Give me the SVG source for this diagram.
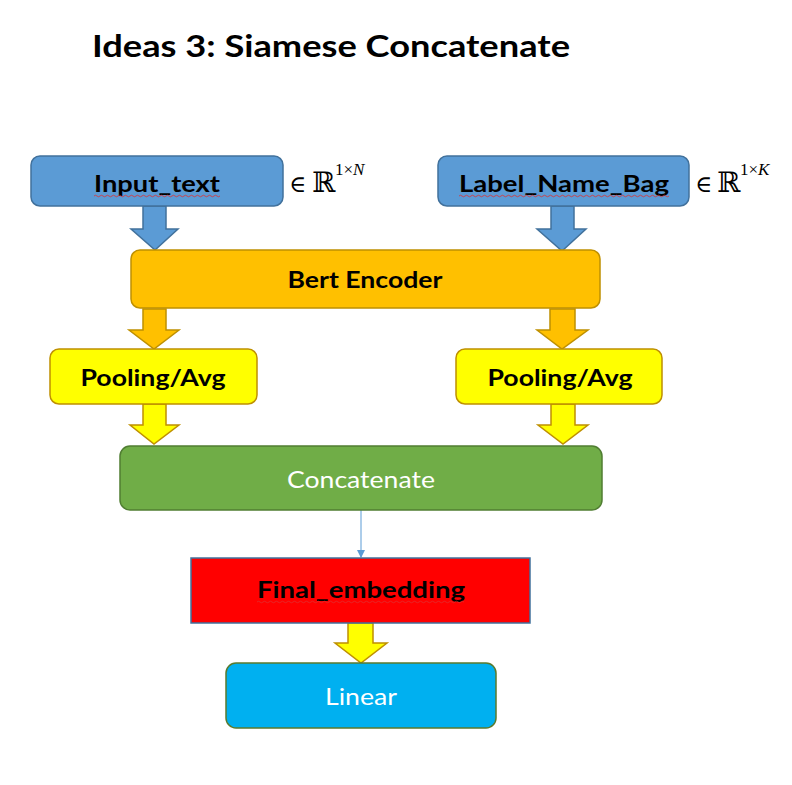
<svg xmlns="http://www.w3.org/2000/svg" width="792" height="785" viewBox="0 0 792 785">
<style>
.lbl{font-family:Lato,"Liberation Sans",Arial,sans-serif;font-weight:bold;font-size:23px;fill:#000;text-anchor:middle}
.wl{font-family:Lato,"Liberation Sans",Arial,sans-serif;font-size:23px;fill:#fff;text-anchor:middle}
.math{font-family:"DejaVu Serif","Liberation Serif",serif;fill:#000}
.sup{font-family:"Liberation Serif",serif;font-size:17px;fill:#000}
.blue{fill:#5B9BD5;stroke:#41719C;stroke-width:1.5}
.orange{fill:#FFC000;stroke:#BF9000;stroke-width:1.5}
.yellow{fill:#FFFF00;stroke:#BF9000;stroke-width:1.5}
.squig{fill:none;stroke:#E03030;stroke-width:0.8}
</style>
<defs>
<marker id="ah" markerWidth="8" markerHeight="8" refX="7" refY="4" orient="auto" markerUnits="userSpaceOnUse">
<path d="M0,0 L8,4 L0,8 Z" fill="#5B9BD5"/>
</marker>
</defs>
<rect width="792" height="785" fill="#fff"/>
<text x="92" y="57" font-family="Lato,'Liberation Sans',Arial,sans-serif" font-weight="bold" font-size="31" textLength="478" lengthAdjust="spacingAndGlyphs">Ideas 3: Siamese Concatenate</text>

<g id="connectors">
<path class="blue" d="M143,206 H166 V229 H178 L155,250 L131,229 H143 Z"/>
<path class="blue" d="M551,206 H574 V229 H586 L562,251 L537,229 H551 Z"/>
<path class="orange" d="M143,309 H166 V330 H179 L154,349 L129,330 H143 Z"/>
<path class="orange" d="M550,309 H575 V330 H588 L562,349 L537,330 H550 Z"/>
<path class="yellow" d="M143,404 H166 V425 H179 L154,444 L130,425 H143 Z"/>
<path class="yellow" d="M551,404 H575 V425 H588 L563,444 L538,425 H551 Z"/>
<line x1="361" y1="510" x2="361" y2="557" stroke="#5B9BD5" stroke-width="1" marker-end="url(#ah)"/>
<path class="yellow" d="M348,623 H373 V643 H387 L361,663 L335,643 H348 Z"/>
</g>

<g id="input_text">
<rect x="31" y="156" width="252" height="50" rx="9" class="blue"/>
<text x="157" y="192" class="lbl" textLength="126" lengthAdjust="spacingAndGlyphs">Input_text</text>
<path class="squig" d="M94,196 q1.5,-1.5 3,0 t3,0 t3,0 t3,0 t3,0 t3,0 t3,0 t3,0 t3,0 t3,0 t3,0 t3,0 t3,0 t3,0 t3,0 t3,0 t3,0 t3,0 t3,0 t3,0 t3,0 t3,0 t3,0 t3,0 t3,0 t3,0 t3,0 t3,0 t3,0 t3,0 t3,0 t3,0 t3,0 t3,0 t3,0 t3,0 t3,0 t3,0 t3,0 t3,0 t3,0 t3,0"/>
<text x="289" y="192" class="math" font-size="23">∈</text>
<text x="312" y="192" class="math" font-size="28">ℝ</text>
<text x="335" y="175" class="sup">1×<tspan font-style="italic">N</tspan></text>
</g>

<g id="label_name_bag">
<rect x="438" y="156" width="251" height="50" rx="9" class="blue"/>
<text x="564" y="192" class="lbl" textLength="210" lengthAdjust="spacingAndGlyphs">Label_Name_Bag</text>
<path class="squig" d="M459,196 q1.5,-1.5 3,0 t3,0 t3,0 t3,0 t3,0 t3,0 t3,0 t3,0 t3,0 t3,0 t3,0 t3,0 t3,0 t3,0 t3,0 t3,0 t3,0 t3,0 t3,0 t3,0 t3,0 t3,0 t3,0 t3,0 t3,0 t3,0 t3,0 t3,0 t3,0 t3,0 t3,0 t3,0 t3,0 t3,0 t3,0 t3,0 t3,0 t3,0 t3,0 t3,0 t3,0 t3,0 t3,0 t3,0 t3,0 t3,0 t3,0 t3,0 t3,0 t3,0 t3,0 t3,0 t3,0 t3,0 t3,0 t3,0 t3,0 t3,0 t3,0 t3,0 t3,0 t3,0 t3,0 t3,0 t3,0 t3,0 t3,0 t3,0 t3,0 t3,0"/>
<text x="695" y="192" class="math" font-size="23">∈</text>
<text x="717" y="192" class="math" font-size="28">ℝ</text>
<text x="740" y="175" class="sup">1×<tspan font-style="italic">K</tspan></text>
</g>

<g id="bert_encoder">
<rect x="131" y="250" width="469" height="58" rx="9" class="orange"/>
<text x="365" y="288" class="lbl" textLength="155" lengthAdjust="spacingAndGlyphs">Bert Encoder</text>
</g>

<g id="pooling_left">
<rect x="50" y="349" width="207" height="55" rx="9" class="yellow"/>
<text x="153" y="386" class="lbl" textLength="145" lengthAdjust="spacingAndGlyphs">Pooling/Avg</text>
</g>

<g id="pooling_right">
<rect x="456" y="349" width="206" height="55" rx="9" class="yellow"/>
<text x="560" y="386" class="lbl" textLength="145" lengthAdjust="spacingAndGlyphs">Pooling/Avg</text>
</g>

<g id="concatenate">
<rect x="120" y="446" width="482" height="64" rx="10" fill="#70AD47" stroke="#507E32" stroke-width="1.5"/>
<text x="361" y="488" class="wl" textLength="148" lengthAdjust="spacingAndGlyphs">Concatenate</text>
</g>

<g id="final_embedding">
<rect x="191" y="558" width="339" height="65" fill="#FF0000" stroke="#41719C" stroke-width="1.5"/>
<text x="361" y="598" class="lbl" textLength="208" lengthAdjust="spacingAndGlyphs">Final_embedding</text>
<path class="squig" stroke="#F0B0B0" d="M257,602 q1.5,-1.5 3,0 t3,0 t3,0 t3,0 t3,0 t3,0 t3,0 t3,0 t3,0 t3,0 t3,0 t3,0 t3,0 t3,0 t3,0 t3,0 t3,0 t3,0 t3,0 t3,0 t3,0 t3,0 t3,0 t3,0 t3,0 t3,0 t3,0 t3,0 t3,0 t3,0 t3,0 t3,0 t3,0 t3,0 t3,0 t3,0 t3,0 t3,0 t3,0 t3,0 t3,0 t3,0 t3,0 t3,0 t3,0 t3,0 t3,0 t3,0 t3,0 t3,0 t3,0 t3,0 t3,0 t3,0 t3,0 t3,0 t3,0 t3,0 t3,0 t3,0 t3,0 t3,0 t3,0 t3,0 t3,0 t3,0 t3,0 t3,0 t3,0"/>
</g>

<g id="linear">
<rect x="226" y="663" width="270" height="65" rx="10" fill="#00B0F0" stroke="#5A7A2E" stroke-width="1.5"/>
<text x="361" y="705" class="wl" textLength="72" lengthAdjust="spacingAndGlyphs">Linear</text>
</g>
</svg>
